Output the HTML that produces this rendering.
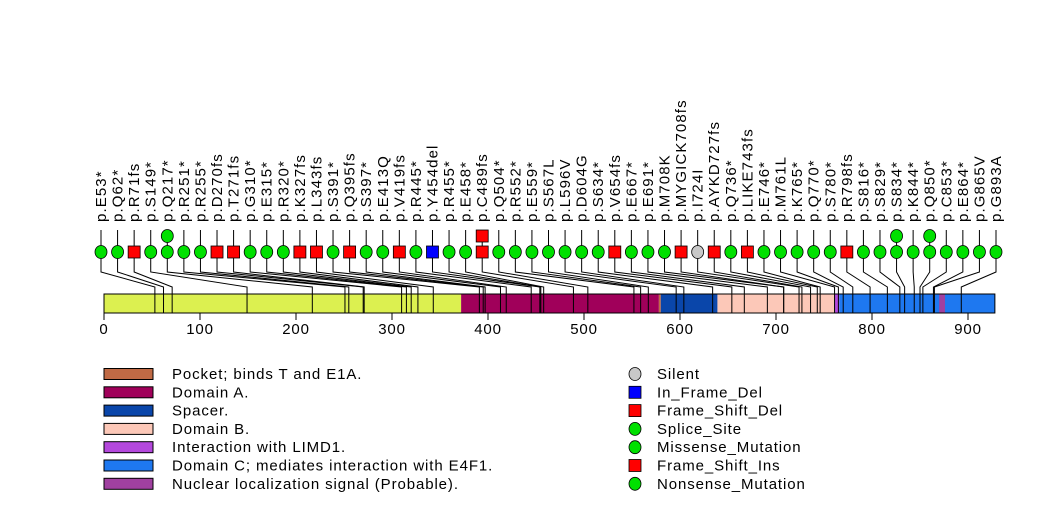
<!DOCTYPE html>
<html><head><meta charset="utf-8"><style>
body{margin:0;background:#fff;}
svg text{font-family:"Liberation Sans",sans-serif;}
</style></head><body>
<svg id="chart" width="1047" height="524" viewBox="0 0 1047 524" xmlns="http://www.w3.org/2000/svg">
<g id="domains"></g>
<g id="links"></g>
<g id="axis"></g>
<g id="muts"></g>
<g id="legend"></g>
</svg>
<script>
const positions=[53,62,71,149,217,251,255,270,271,310,315,320,327,343,391,395,397,413,419,445,454,455,458,489,504,552,559,567,596,604,634,654,667,691,708,708,724,727,736,743,746,761,765,770,780,798,816,829,834,844,850,853,864,865,893];
const labels=["p.E53*","p.Q62*","p.R71fs","p.S149*","p.Q217*","p.R251*","p.R255*","p.D270fs","p.T271fs","p.G310*","p.E315*","p.R320*","p.K327fs","p.L343fs","p.S391*","p.Q395fs","p.S397*","p.E413Q","p.V419fs","p.R445*","p.Y454del","p.R455*","p.E458*","p.C489fs","p.Q504*","p.R552*","p.E559*","p.S567L","p.L596V","p.D604G","p.S634*","p.V654fs","p.E667*","p.E691*","p.M708K","p.MYGICK708fs","p.I724I","p.AYKD727fs","p.Q736*","p.LIKE743fs","p.E746*","p.M761L","p.K765*","p.Q770*","p.S780*","p.R798fs","p.S816*","p.S829*","p.S834*","p.K844*","p.Q850*","p.C853*","p.E864*","p.G865V","p.G893A"];
const types=["c","c","fs","c","c","c","c","fs","fs","c","c","c","fs","fs","c","fs","c","c","fs","c","del","c","c","fs","c","c","c","c","c","c","c","fs","c","c","c","fs","s","fs","c","fs","c","c","c","c","c","fs","c","c","c","c","c","c","c","c","c"];
const counts=[1,1,1,1,2,1,1,1,1,1,1,1,1,1,1,1,1,1,1,1,1,1,1,2,1,1,1,1,1,1,1,1,1,1,1,1,1,1,1,1,1,1,1,1,1,1,1,1,2,1,2,1,1,1,1];
const domStarts=[0,372,578,580,637,639,761,766,870];
const domEnds=[372,578,580,637,639,761,766,928,876];
const domColors=["#dcf050","#a0005a","#c06a45","#0a46aa","#0a46aa","#fcc8b8","#b448dc","#1e78f0","#a040a0"];
const ticks=[0,100,200,300,400,500,600,700,800,900];
const legNames=["Pocket; binds T and E1A.","Domain A.","Spacer.","Domain B.","Interaction with LIMD1.","Domain C; mediates interaction with E4F1.","Nuclear localization signal (Probable)."];
const legColors=["#c06a45","#a0005a","#0a46aa","#fcc8b8","#b448dc","#1e78f0","#a040a0"];
const mutNames=["Silent","In_Frame_Del","Frame_Shift_Del","Splice_Site","Missense_Mutation","Frame_Shift_Ins","Nonsense_Mutation"];
const mutShapes=["c","del","fs","c","c","fs","c"];
const mutCols=["#c8c8c8","#0000ff","#ff0000","#00e000","#00e000","#ff0000","#00e000"];

const NS="http://www.w3.org/2000/svg";
const sx=v=>104+v*0.96;
function mk(tag,attrs,parent){const e=document.createElementNS(NS,tag);for(const k in attrs)e.setAttribute(k,attrs[k]);parent.appendChild(e);return e;}
const gD=document.getElementById('domains'),gL=document.getElementById('links'),gA=document.getElementById('axis'),gM=document.getElementById('muts'),gG=document.getElementById('legend');
const BT=294,BB=313;
domStarts.forEach((s,i)=>{
  const r=mk('rect',{x:sx(s),y:BT,width:sx(domEnds[i])-sx(s),height:BB-BT,fill:domColors[i],stroke:'none'},gD);
  
  
});
const outline=mk('rect',{x:sx(0),y:BT,width:sx(928)-sx(0),height:BB-BT,fill:'none',stroke:'#000','stroke-width':1},gD);


const axl=mk('line',{x1:sx(0),y1:BB,x2:sx(900),y2:BB,stroke:'#000'},gA);


ticks.forEach(t=>{
  mk('line',{x1:sx(t),y1:BB,x2:sx(t),y2:320,stroke:'#000'},gA);
  const tx=mk('text',{x:sx(t),y:334,'font-size':15,'letter-spacing':0.8,'text-anchor':'middle'},gA);
  tx.textContent=t;
  
  
});
const n=positions.length;
positions.forEach((p,i)=>{
  const mx=101+i*(996-101)/(n-1);
  const px=sx(p);
  mk('polyline',{points:`${mx},230 ${mx},272 ${px},287 ${px},${BB}`,fill:'none',stroke:'#000','stroke-width':1},gL);
  const g=mk('g',{},gM);
  
  
  const t=mk('text',{x:0,y:0,'font-size':15,'letter-spacing':1.1,transform:`translate(${mx+5},222) rotate(-90)`},g);
  t.textContent=labels[i];
  for(let k=0;k<counts[i];k++){
    const cy=252-k*16;
    const ty=types[i];
    if(ty==='c'||ty==='s'){
      mk('ellipse',{cx:mx,cy:cy,rx:6,ry:6.5,fill:ty==='s'?'#c8c8c8':'#00e000',stroke:'#000','stroke-width':0.8},g);
    }else{
      mk('rect',{x:mx-6,y:cy-6,width:12,height:12,fill:ty==='del'?'#0000ff':'#ff0000',stroke:'#000','stroke-width':0.8},g);
    }
  }
});
legNames.forEach((nm,i)=>{
  const y=374+i*18.3;
  const g=mk('g',{},gG);
  
  
  mk('rect',{x:104,y:y-5.5,width:49,height:11,fill:legColors[i],stroke:'#000','stroke-width':1},g);
  const t=mk('text',{x:172,y:y+5,'font-size':15,'letter-spacing':0.9},g);t.textContent=nm;
});
mutNames.forEach((nm,i)=>{
  const y=374+i*18.3;
  const g=mk('g',{},gG);
  
  
  if(mutShapes[i]==='c')mk('ellipse',{cx:635,cy:y,rx:6,ry:6.5,fill:mutCols[i],stroke:'#000','stroke-width':0.8},g);
  else mk('rect',{x:629,y:y-6,width:12,height:12,fill:mutCols[i],stroke:'#000','stroke-width':0.8},g);
  const t=mk('text',{x:657,y:y+5,'font-size':15,'letter-spacing':0.9},g);t.textContent=nm;
});
</script>
</body></html>
